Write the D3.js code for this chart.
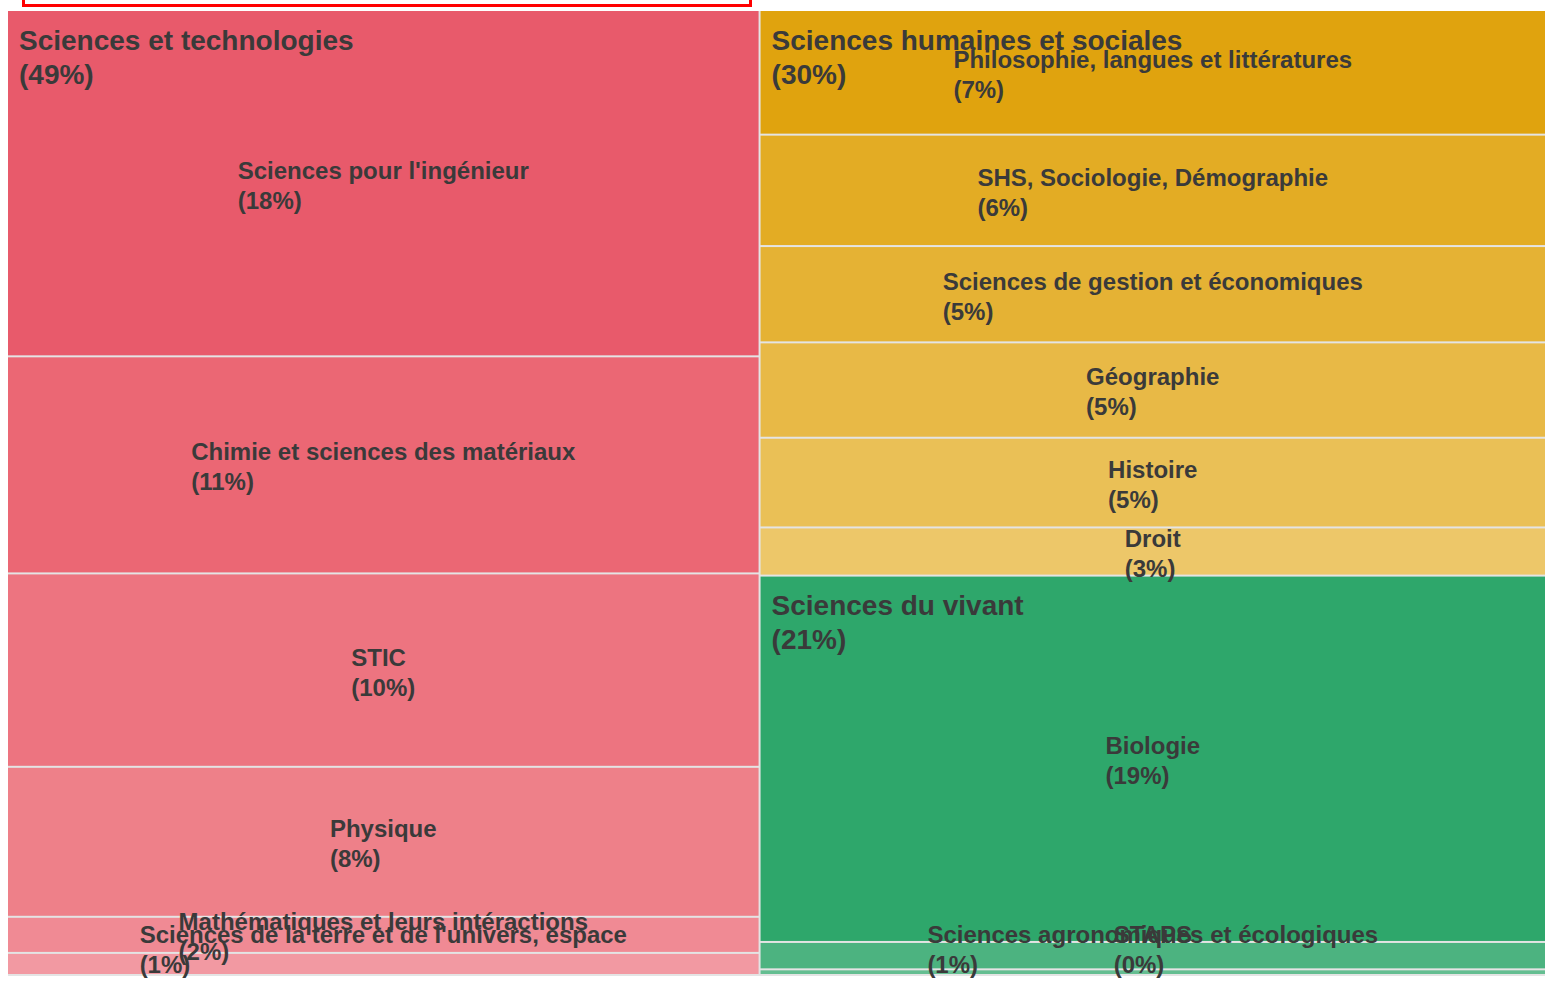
<!DOCTYPE html>
<html>
<head>
<meta charset="utf-8">
<script src="https://cdn.jsdelivr.net/npm/d3@7"></script>
<style>
  html, body { margin: 0; padding: 0; background: #fff; overflow: hidden; }
  svg { display: block; }
  text { font-family: "Liberation Sans", Arial, sans-serif; font-weight: bold; fill: #3a3a3a; }
</style>
</head>
<body>
<svg id="chart" width="1545" height="987"></svg>
<script>
// ---- data ----
const groups = ["Sciences et technologies", "Sciences humaines et sociales", "Sciences du vivant"];

const stCategories = ["Sciences pour l'ingénieur", "Chimie et sciences des matériaux", "STIC", "Physique",
  "Mathématiques et leurs intéractions", "Sciences de la terre et de l'univers, espace"];
const stValues = [17.55, 11.0, 9.8, 7.6, 1.83, 1.12];

const shsCategories = ["Philosophie, langues et littératures", "SHS, Sociologie, Démographie",
  "Sciences de gestion et économiques", "Géographie", "Histoire", "Droit"];
const shsValues = [6.6, 5.9, 5.1, 5.05, 4.75, 2.55];

const svCategories = ["Biologie", "Sciences agronomiques et écologiques", "STAPS"];
const svValues = [19.4, 1.45, 0.3];

// ---- styles ----
const palettes = [
  ["#e85a6b", "#eb6774", "#ed7480", "#ee8089", "#f08a94", "#f299a2"],
  ["#e0a30e", "#e3ac24", "#e5b234", "#e8b946", "#eac056", "#edc769"],
  ["#2ea76b", "#4cb380", "#64be91"]
];

const hierarchyData = {
  name: "root",
  children: [
    { name: groups[0], children: stCategories.map((c, i) => ({ name: c, value: stValues[i] })) },
    { name: groups[1], children: shsCategories.map((c, i) => ({ name: c, value: shsValues[i] })) },
    { name: groups[2], children: svCategories.map((c, i) => ({ name: c, value: svValues[i] })) }
  ]
};

const X0 = 8, Y0 = 11, W = 1545 - 8, H = 976 - 11;
const svg = d3.select("#chart");

// highlight box at top
svg.append("rect")
  .attr("x", 23.5).attr("y", -30).attr("width", 727).attr("height", 35.5)
  .attr("fill", "none").attr("stroke", "#ff0000").attr("stroke-width", 3);

const root = d3.hierarchy(hierarchyData).sum(d => d.value || 0)
  .sort((a, b) => b.value - a.value);
const total = root.value;

function tile(node, x0, y0, x1, y1) {
  if (node.depth === 0) d3.treemapBinary(node, x0, y0, x1, y1);
  else d3.treemapSlice(node, x0, y0, x1, y1);
}

d3.treemap().tile(tile).size([W, H]).paddingInner(2).paddingBottom(d => d.depth === 0 ? 2 : 0)(root);

const g = svg.append("g").attr("transform", `translate(${X0},${Y0})`);

g.append("rect").attr("x", 0).attr("y", 0).attr("width", W).attr("height", H).attr("fill", "#e4e4e4");

const groupIndex = name => groups.indexOf(name);

const leaves = root.leaves();
g.selectAll("rect.leaf").data(leaves).join("rect")
  .attr("class", "leaf")
  .attr("x", d => d.x0).attr("y", d => d.y0)
  .attr("width", d => d.x1 - d.x0).attr("height", d => d.y1 - d.y0)
  .attr("fill", d => palettes[groupIndex(d.parent.data.name)][d.parent.children.indexOf(d)]);

const pct = v => "(" + Math.round(v / total * 100) + "%)";

// leaf labels
const fs = 24;
const maxLine2 = 965 - Y0;
leaves.forEach(d => {
  const cx = (d.x0 + d.x1) / 2, cy = (d.y0 + d.y1) / 2;
  const l2 = Math.min(cy + 17, maxLine2);
  const l1 = l2 - 30;
  const t = g.append("text").attr("font-size", fs);
  const a = t.append("tspan").text(d.data.name).attr("y", l1 + fs * 0.35);
  const b = t.append("tspan").text(pct(d.value)).attr("y", l2 + fs * 0.35);
  const w = Math.max(a.node().getComputedTextLength(), b.node().getComputedTextLength());
  a.attr("x", cx - w / 2);
  b.attr("x", cx - w / 2);
});

// group labels
const gfs = 28;
root.children.forEach(d => {
  const t = g.append("text").attr("font-size", gfs);
  t.append("tspan").attr("x", d.x0 + 11).attr("y", d.y0 + 29 + gfs * 0.35).text(d.data.name);
  t.append("tspan").attr("x", d.x0 + 11).attr("y", d.y0 + 63 + gfs * 0.35).text(pct(d.value));
});
</script>
</body>
</html>
